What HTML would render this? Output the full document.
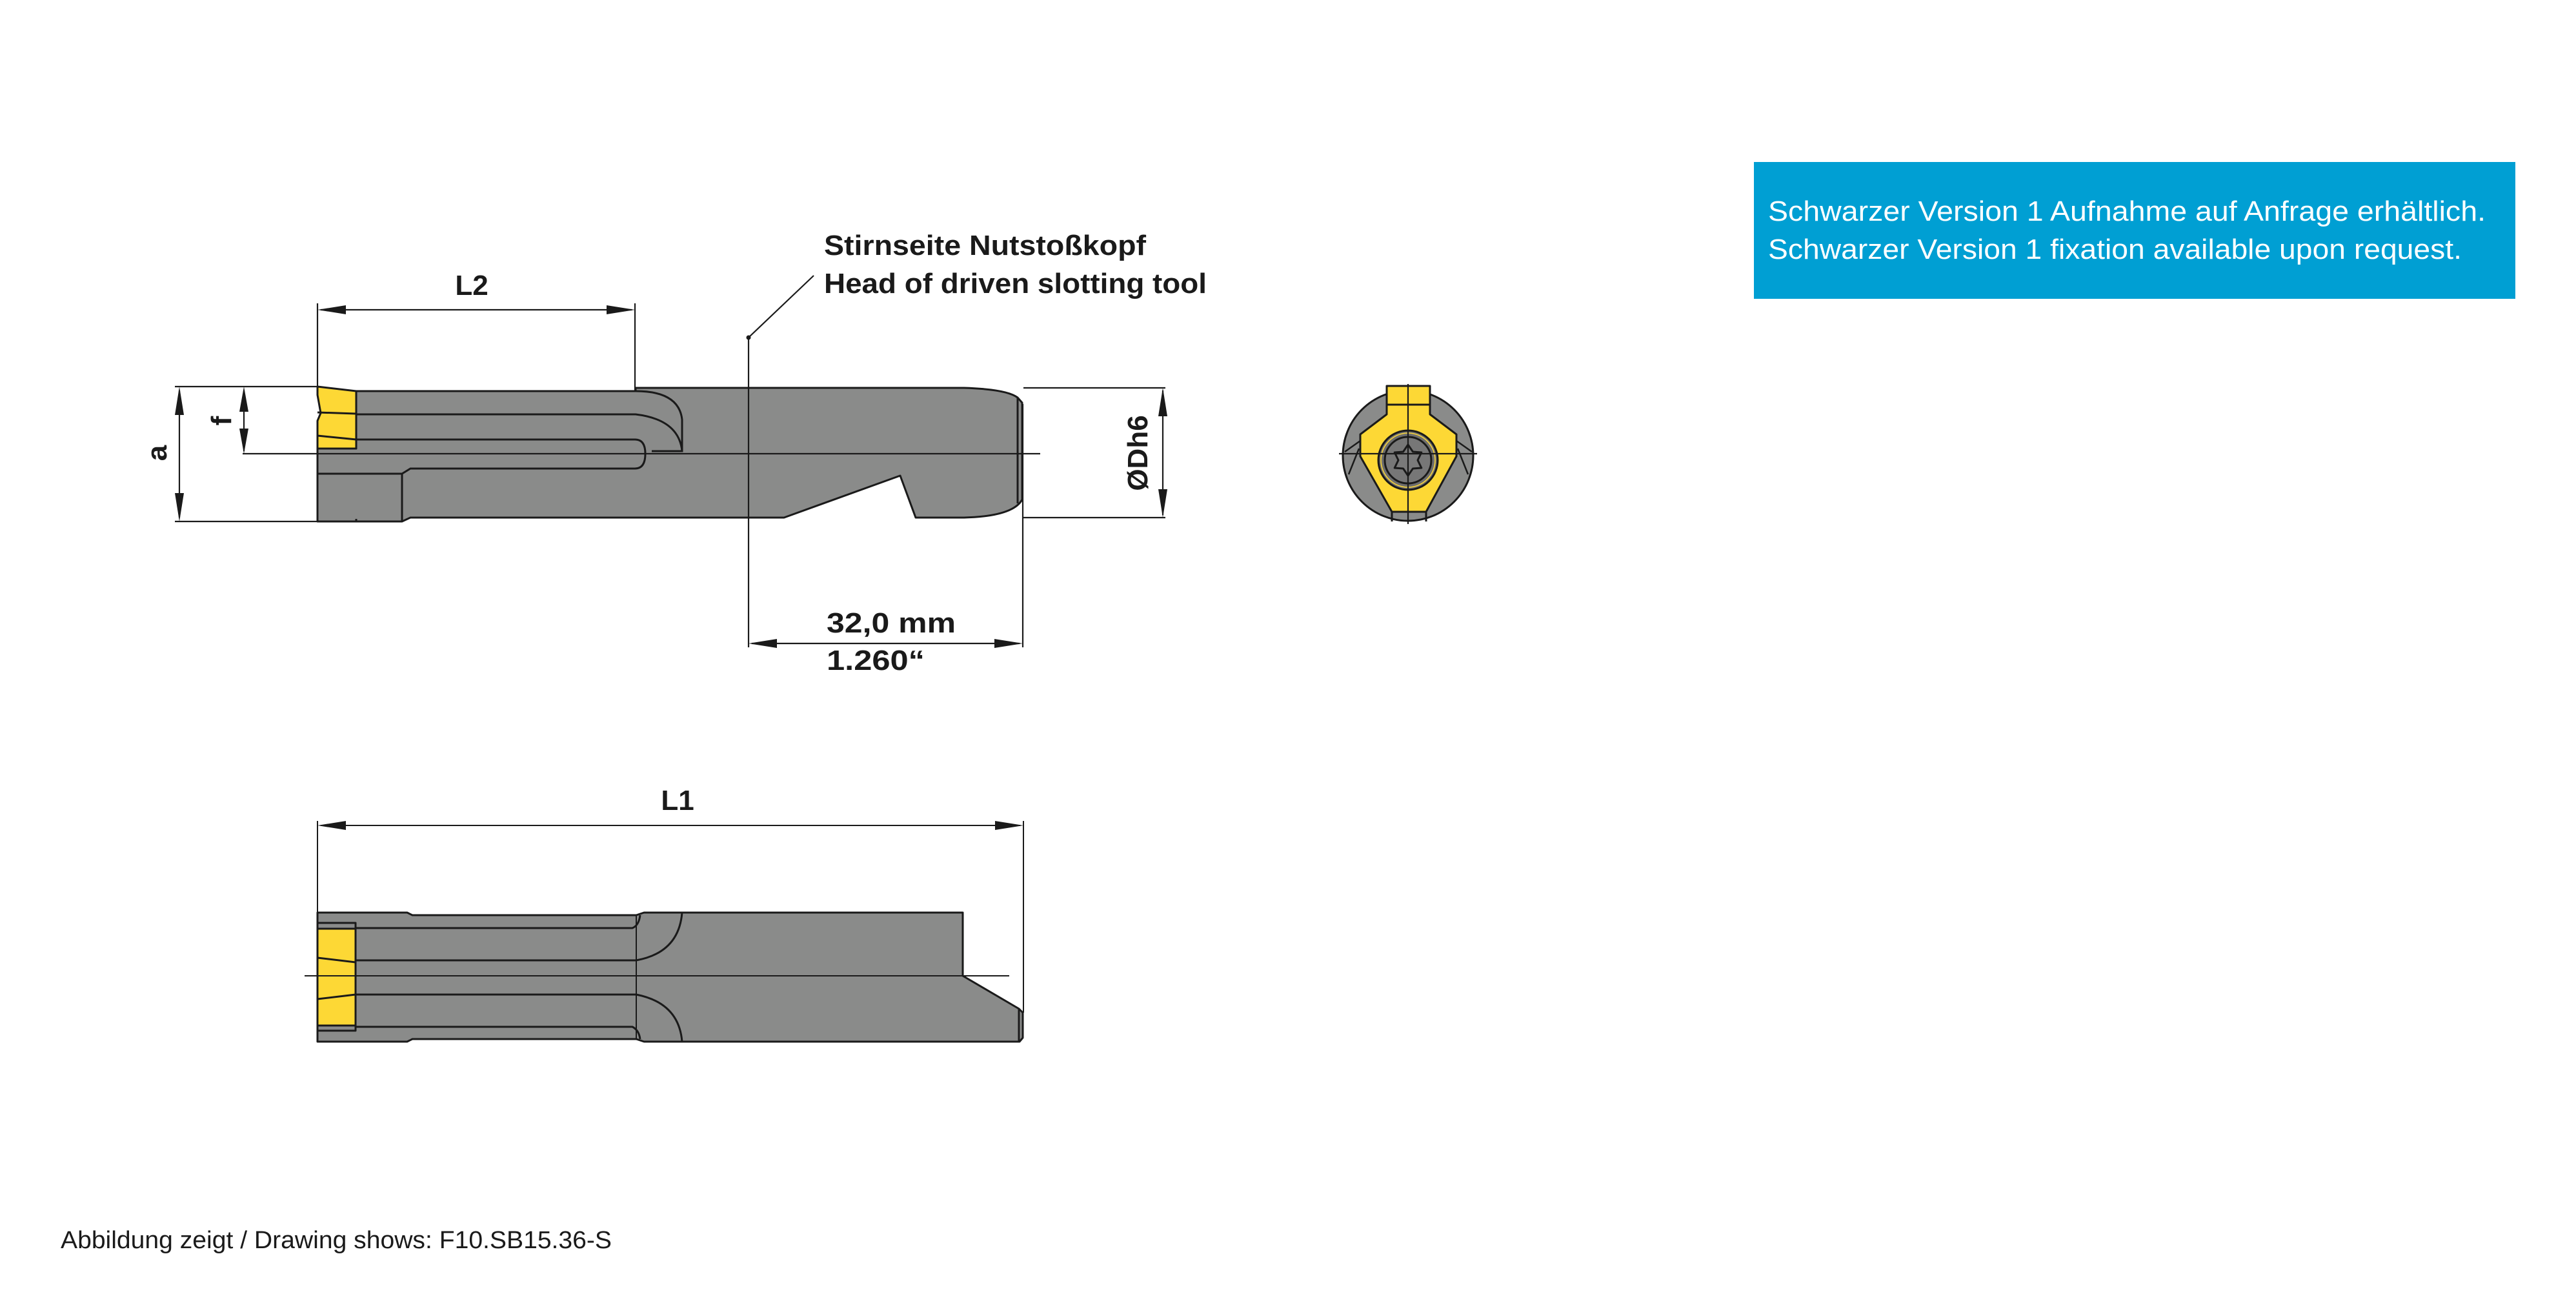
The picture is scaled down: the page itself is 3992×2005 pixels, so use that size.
<!DOCTYPE html>
<html><head><meta charset="utf-8"><style>
html,body{margin:0;padding:0;background:#fff;}
svg{display:block;}
text{font-family:"Liberation Sans",sans-serif;}
</style></head><body>
<svg width="3992" height="2005" viewBox="0 0 3992 2005" xmlns="http://www.w3.org/2000/svg">
<rect width="3992" height="2005" fill="#fff"/>

<!-- ============ TOP TOOL ============ -->
<g stroke="#1a1a1a" stroke-width="3" stroke-linejoin="round">
  <path d="M552,606 L985,606 L985,601 L1494,601 Q1560,603 1577,616 L1584,624 L1584,774 Q1570,800 1494,802 L1419,802 L1395,737 L1215,802 L636,802 L623,808 L492,808 L492,695 L552,695 Z" fill="#8a8b8a"/>
  <path d="M492,599 L552,606 L552,695 L492,695 L492,652 L497,640 L492,612 Z" fill="#fdd835"/>
</g>
<g stroke="#1a1a1a" fill="none" stroke-width="3">
  <path d="M492,639 L552,641"/>
  <path d="M492,675 L552,681"/>
  <path d="M552,642 L985,642 Q1052,650 1057,699"/>
  <path d="M985,606 Q1052,606 1057,650 L1057,699 L1010,699"/>
  <path d="M552,681 L984,681 Q1000,681 1000,703 Q1000,726 984,726 L636,726 L623,734 L492,734"/>
  <path d="M623,734 L623,808"/>
  <path d="M1577,616 L1577,780"/>
  <path d="M552,804 L552,808"/>
</g>
<g stroke="#1a1a1a" fill="none" stroke-width="2.2">
  <path d="M376,703 L1612,703"/>
  <path d="M271,599 L492,599"/>
  <path d="M271,808 L623,808"/>
  <path d="M278,605 L278,802"/>
  <path d="M378,605 L378,699"/>
  <path d="M492,470 L492,599"/>
  <path d="M984,470 L984,606"/>
  <path d="M497,480 L979,480"/>
  <path d="M1160,523 L1160,1003"/>
  <path d="M1160,523 L1261,427"/>
  <path d="M1585,626 L1585,1003"/>
  <path d="M1165,997 L1580,997"/>
  <path d="M1586,601 L1806,601"/>
  <path d="M1586,802 L1806,802"/>
  <path d="M1802,605 L1802,798"/>
</g>
<circle cx="1160" cy="523" r="3.5" fill="#1a1a1a"/>
<g fill="#1a1a1a">
  <polygon points="492,480 536,473 536,487"/>
  <polygon points="984,480 940,473 940,487"/>
  <polygon points="278,599 271,643 285,643"/>
  <polygon points="278,808 271,764 285,764"/>
  <polygon points="378,599 371,638 385,638"/>
  <polygon points="378,703 371,664 385,664"/>
  <polygon points="1160,997 1204,990 1204,1004"/>
  <polygon points="1585,997 1541,990 1541,1004"/>
  <polygon points="1802,601 1795,645 1809,645"/>
  <polygon points="1802,802 1795,758 1809,758"/>
</g>
<g font-weight="bold" fill="#1a1a1a" font-size="44">
  <text x="731" y="457" text-anchor="middle">L2</text>
  <text x="1277" y="395" textLength="499" lengthAdjust="spacingAndGlyphs">Stirnseite Nutstoßkopf</text>
  <text x="1277" y="454" textLength="593" lengthAdjust="spacingAndGlyphs">Head of driven slotting tool</text>
  <text x="1281" y="980" textLength="200" lengthAdjust="spacingAndGlyphs">32,0 mm</text>
  <text x="1281" y="1038" textLength="152" lengthAdjust="spacingAndGlyphs">1.260“</text>
  <text transform="translate(1778,702) rotate(-90)" text-anchor="middle">ØDh6</text>
  <text transform="translate(258,702) rotate(-90)" text-anchor="middle">a</text>
  <text transform="translate(358,652) rotate(-90)" text-anchor="middle">f</text>
</g>

<!-- ============ END VIEW ============ -->
<g stroke="#1a1a1a" stroke-width="3" stroke-linejoin="round">
  <circle cx="2182" cy="706" r="101" fill="#8a8b8a"/>
  <polygon points="2149,598 2216,598 2216,642 2257,673 2257,707 2210,793 2157,793 2108,707 2108,673 2149,642" fill="#fdd835"/>
  <path d="M2157,793 L2157,808 M2210,793 L2210,808" fill="none"/>
  <path d="M2149,627 L2216,627" fill="none"/>
  <path d="M2108,683 L2084,700 M2106,695 L2090,735 M2257,683 L2281,700 M2259,695 L2275,735" fill="none" stroke-width="2.5"/>
  <circle cx="2182" cy="713" r="46" fill="#6e6e6e"/>
  <circle cx="2182" cy="713" r="42" fill="none" stroke="#fdd835" stroke-width="1.5"/>
  <circle cx="2182" cy="713" r="36" fill="#777" />
  <polygon points="2182,689 2189.5,700 2202.8,701 2197,713 2202.8,725 2189.5,726 2182,737 2174.5,726 2161.2,725 2167,713 2161.2,701 2174.5,700" fill="#7a7a7a"/>
</g>
<g stroke="#1a1a1a" stroke-width="2.2">
  <path d="M2075,703 L2289,703"/>
  <path d="M2182,595 L2182,812"/>
</g>

<!-- ============ BOTTOM TOOL ============ -->
<g transform="translate(0,-6)">
<g stroke="#1a1a1a" stroke-width="3" stroke-linejoin="round">
  <path d="M492,1420 L631,1420 L639,1424 L986,1424 L998,1420 L1492,1420 L1492,1518 L1579,1569 L1585,1575 L1585,1614 L1580,1620 L998,1620 L986,1616 L639,1616 L631,1620 L492,1620 Z" fill="#8a8b8a"/>
  <rect x="492" y="1445" width="59" height="150" fill="#fdd835"/>
  <rect x="492" y="1436" width="59" height="9" fill="#8a8b8a"/>
  <rect x="492" y="1595" width="59" height="8" fill="#8a8b8a"/>
</g>
<g stroke="#1a1a1a" fill="none" stroke-width="3">
  <path d="M492,1490 L551,1497"/>
  <path d="M492,1554 L551,1547"/>
  <path d="M551,1444 L980,1444 Q990,1440 992,1424"/>
  <path d="M551,1494 L986,1494 Q1052,1482 1057,1420"/>
  <path d="M551,1547 L986,1547 Q1052,1560 1057,1620"/>
  <path d="M551,1597 L980,1597 Q990,1602 992,1616"/>
  <path d="M1579,1569 L1579,1620"/>
</g>
<g stroke="#1a1a1a" fill="none" stroke-width="2">
  <path d="M986,1424 L986,1616"/>
  <path d="M472,1518 L1564,1518"/>
  <path d="M492,1278 L492,1420"/>
  <path d="M1586,1278 L1586,1575"/>
  <path d="M497,1285 L1581,1285"/>
</g>
<g fill="#1a1a1a">
  <polygon points="492,1285 536,1278 536,1292"/>
  <polygon points="1586,1285 1542,1278 1542,1292"/>
</g>
<text x="1050" y="1261" text-anchor="middle" font-weight="bold" font-size="44" fill="#1a1a1a">L1</text>
</g>

<!-- ============ BLUE BOX ============ -->
<rect x="2718" y="251" width="1180" height="212" fill="#009fd3"/>
<g fill="#fff" font-size="44">
  <text x="2740" y="342" textLength="1112" lengthAdjust="spacingAndGlyphs">Schwarzer Version 1 Aufnahme auf Anfrage erhältlich.</text>
  <text x="2740" y="401" textLength="1075" lengthAdjust="spacingAndGlyphs">Schwarzer Version 1 fixation available upon request.</text>
</g>

<!-- footer -->
<text x="94" y="1934" font-size="38" fill="#1a1a1a" textLength="854" lengthAdjust="spacingAndGlyphs">Abbildung zeigt / Drawing shows: F10.SB15.36-S</text>
</svg>
</body></html>
